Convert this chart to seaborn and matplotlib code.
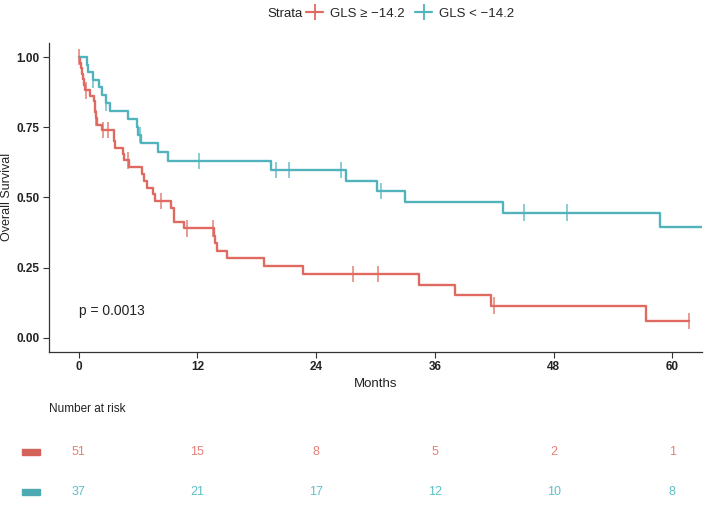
import numpy as np
import pandas as pd
import matplotlib
matplotlib.use("Agg")
import matplotlib.pyplot as plt
import matplotlib.transforms as mtransforms
from matplotlib.lines import Line2D
from matplotlib.patches import Rectangle
import seaborn as sns

# Kaplan-Meier steps (time in months, survival after the drop)
red_label = "GLS \u2265 \u221214.2"
teal_label = "GLS < \u221214.2"

red_time = [0, 0.1, 0.2, 0.3, 0.4, 0.5, 0.6, 1.15, 1.5, 1.6, 1.65, 1.7, 1.9, 2.4,
            3.55, 3.6, 3.7, 4.5, 4.6, 5.1, 6.4, 6.6, 6.9, 7.5, 7.7, 9.3, 9.6, 9.65,
            10.6, 13.7, 13.8, 14.0, 15.0, 18.7, 22.7, 34.4, 38.0, 41.7, 57.3, 61.7]
red_surv = [1.0, 0.980, 0.961, 0.941, 0.922, 0.902, 0.882, 0.863, 0.843, 0.823,
            0.804, 0.784, 0.760, 0.741, 0.720, 0.700, 0.675, 0.655, 0.632, 0.607,
            0.582, 0.560, 0.535, 0.511, 0.487, 0.461, 0.437, 0.414, 0.390, 0.364,
            0.337, 0.310, 0.283, 0.256, 0.227, 0.189, 0.151, 0.114, 0.060, 0.060]
red_censor = [0, 0.78, 1.72, 2.46, 2.96, 5.0, 8.3, 10.9, 13.6, 27.7, 30.3, 42.0, 61.7]

teal_time = [0, 0.8, 0.95, 1.4, 2.05, 2.4, 2.75, 3.13, 5.0, 5.9, 6.0, 6.3, 8.0, 9.0,
             19.4, 27.0, 30.2, 33.0, 42.9, 58.8, 64.0]
teal_surv = [1.0, 0.973, 0.946, 0.919, 0.894, 0.866, 0.836, 0.808, 0.779, 0.750,
             0.722, 0.693, 0.662, 0.630, 0.598, 0.560, 0.523, 0.485, 0.446, 0.394, 0.394]
teal_censor = [1.45, 2.8, 6.2, 12.2, 19.9, 21.3, 26.5, 30.6, 45.0, 49.4]

# number at risk table
risk_times = [0, 12, 24, 36, 48, 60]
red_risk = [51, 15, 8, 5, 2, 1]
teal_risk = [37, 21, 17, 12, 10, 8]

pal = {red_label: "#DE6A61", teal_label: "#52B3BC"}
risk_col = {red_label: "#E48179", teal_label: "#5EBFC7"}
box_col = {red_label: "#D4625A", teal_label: "#4EAAB2"}


def surv_at(times, survs, t):
    i = np.searchsorted(times, t, side="right") - 1
    return survs[max(i, 0)]


curves = pd.concat([
    pd.DataFrame({"time": red_time, "surv": red_surv, "strata": red_label}),
    pd.DataFrame({"time": teal_time, "surv": teal_surv, "strata": teal_label}),
])
cens = pd.concat([
    pd.DataFrame({"time": red_censor,
                  "surv": [surv_at(red_time, red_surv, t) for t in red_censor],
                  "strata": red_label}),
    pd.DataFrame({"time": teal_censor,
                  "surv": [surv_at(teal_time, teal_surv, t) for t in teal_censor],
                  "strata": teal_label}),
])

sns.set_theme(style="white")
plt.rcParams["font.family"] = ["Liberation Sans", "DejaVu Sans"]

W, H = 705, 505
fig = plt.figure(figsize=(W / 100, H / 100), dpi=100)
ax = fig.add_axes([49 / W, 1 - 351.7 / H, 653 / W, 309 / H])

sns.lineplot(data=curves, x="time", y="surv", hue="strata", palette=pal,
             drawstyle="steps-post", estimator=None, sort=False, linewidth=1.7,
             legend=False, ax=ax)
sns.scatterplot(data=cens, x="time", y="surv", hue="strata", palette=pal,
                marker="|", s=140, linewidth=1.1, alpha=0.85, legend=False,
                ax=ax, zorder=3)

ax.set_xlim(-3, 63)
ax.set_ylim(-0.05, 1.052)
ax.set_xticks(risk_times)
ax.set_yticks([0, 0.25, 0.5, 0.75, 1.0])
ax.set_yticklabels(["0.00", "0.25", "0.50", "0.75", "1.00"])
for s in ["top", "right"]:
    ax.spines[s].set_visible(False)
for s in ["left", "bottom"]:
    ax.spines[s].set_color("#333333")
    ax.spines[s].set_linewidth(0.9)
ax.tick_params(bottom=True, left=True, direction="out", length=4, width=0.8,
               color="#333333", labelsize=8.5, labelcolor="#222222", pad=3)
for lab in ax.get_xticklabels() + ax.get_yticklabels():
    lab.set_fontweight("bold")
ax.set_xlabel("Months", fontsize=9.5, color="#222222", labelpad=3)
ax.set_ylabel("Overall Survival", fontsize=9, color="#222222", labelpad=2)

ax.text(0, 0.095, "p = 0.0013", ha="left", va="center", fontsize=10, color="#222222")

# legend on top
fig.text(267 / W, 1 - 14 / H, "Strata", ha="left", va="center", fontsize=9.5, color="#222222")
handles = [Line2D([0], [0], color=pal[k], lw=1.6, marker="|", markersize=12,
                  markeredgewidth=1.3) for k in [red_label, teal_label]]
fig.legend(handles, [red_label, teal_label], loc="center left",
           bbox_to_anchor=(306 / W, 1 - 14 / H), ncol=2, frameon=False,
           handlelength=1.3, handletextpad=0.5, columnspacing=0.8, fontsize=9.5,
           borderaxespad=0, borderpad=0)

# risk table
fig.text(49 / W, 1 - 409 / H, "Number at risk", ha="left", va="center",
         fontsize=8.5, color="#222222")
trans = mtransforms.blended_transform_factory(ax.transData, fig.transFigure)
for lab, vals, ypx in [(red_label, red_risk, 452), (teal_label, teal_risk, 492)]:
    for t, v in zip(risk_times, vals):
        fig.text(t, 1 - ypx / H, str(v), transform=trans, ha="center", va="center",
                 fontsize=9, color=risk_col[lab])
    fig.patches.append(Rectangle((22 / W, 1 - (ypx + 3) / H), 18 / W, 6 / H,
                                 transform=fig.transFigure, color=box_col[lab]))

fig.savefig("out.png", dpi=100)
